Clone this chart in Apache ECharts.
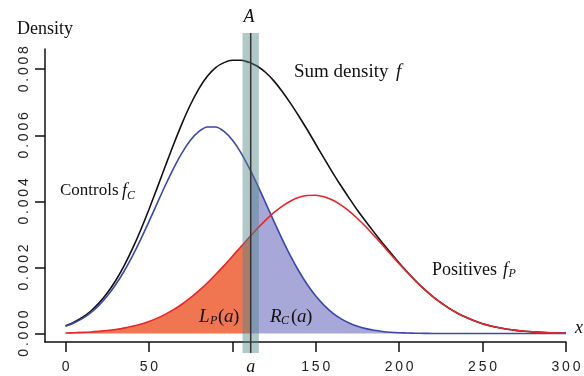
<!DOCTYPE html>
<html>
<head>
<meta charset="utf-8">
<script src="https://cdn.jsdelivr.net/npm/echarts@6/dist/echarts.min.js"></script>
<style>
html,body{margin:0;padding:0;background:#fff;}
#chart{width:584px;height:376px;}
</style>
</head>
<body>
<div id="chart"></div>
<script>
// ---- data ----
const xs = [0,5,10,15,20,25,30,35,40,45,50,55,60,65,70,75,80,85,90,95,100,105,110,111,115,120,125,130,135,140,145,150,155,160,165,170,175,180,185,190,195,200,205,210,215,220,225,230,235,240,245,250,255,260,265,270,275,280,285,290,295,300];
const controls = [0.000220,0.000319,0.000452,0.000628,0.000854,0.001135,0.001475,0.001877,0.002336,0.002844,0.003388,0.003949,0.004503,0.005024,0.005483,0.005856,0.006118,0.006253,0.006253,0.006118,0.005856,0.005483,0.005024,0.004924,0.004503,0.003949,0.003388,0.002844,0.002336,0.001877,0.001475,0.001135,0.000854,0.000628,0.000452,0.000319,0.000220,0.000148,0.000098,0.000063,0.000040,0.000025,0.000015,0.000009,0.000005,0.000003,0.000002,0.000001,0,0,0,0,0,0,0,0,0,0,0,0,0,0];
const positives = [0.000016,0.000023,0.000034,0.000047,0.000066,0.000090,0.000123,0.000164,0.000218,0.000284,0.000367,0.000467,0.000588,0.000730,0.000895,0.001084,0.001297,0.001531,0.001785,0.002055,0.002336,0.002621,0.002905,0.002961,0.003179,0.003434,0.003664,0.003859,0.004014,0.004123,0.004180,0.004186,0.004138,0.004040,0.003894,0.003706,0.003483,0.003231,0.002961,0.002678,0.002393,0.002110,0.001838,0.001581,0.001342,0.001125,0.000931,0.000761,0.000614,0.000490,0.000385,0.000299,0.000230,0.000174,0.000130,0.000096,0.000070,0.000050,0.000036,0.000025,0.000018,0.000012];
const sumDensity = [0.000236,0.000342,0.000486,0.000675,0.000920,0.001225,0.001598,0.002041,0.002554,0.003128,0.003755,0.004416,0.005091,0.005754,0.006378,0.006940,0.007415,0.007784,0.008050,0.008200,0.008270,0.008270,0.008210,0.008190,0.008090,0.007900,0.007640,0.007320,0.006960,0.006570,0.006160,0.005730,0.005300,0.004880,0.004480,0.004100,0.003730,0.003390,0.003062,0.002743,0.002434,0.002135,0.001853,0.001590,0.001347,0.001128,0.000933,0.000762,0.000614,0.000490,0.000385,0.000299,0.000230,0.000174,0.000130,0.000096,0.000070,0.000050,0.000036,0.000025,0.000018,0.000012];
const cutoff = 111;
const xTicks = [0,50,100,150,200,250,300];
const xLabels = [0,50,111,150,200,250,300];
const yTicks = [0,0.002,0.004,0.006,0.008];

// ---- derived series data ----
const pts = arr => xs.map((x,i)=>[x,arr[i]]);
const leftFill = pts(positives).filter(p=>p[0]<=cutoff);
const rightFill = pts(controls).filter(p=>p[0]>=cutoff);

const SERIF = '"Liberation Serif","Times New Roman",serif';
const spaced = s => String(s).split('').join('\u2009');

function T(x, y, text, size, italic, align){
  return {type:'text', x:x, y:y, z:100,
    style:{text:text, fill:'#111', align:align||'left', verticalAlign:'middle',
      font:(italic?'italic ':'')+size+'px '+SERIF}};
}

const chart = echarts.init(document.getElementById('chart'), null, {renderer:'canvas'});
chart.setOption({
  animation:false,
  backgroundColor:'#fff',
  grid:{left:45,right:18,top:49,bottom:33,containLabel:false},
  xAxis:{type:'value',min:-12.3,max:300,
    splitLine:{show:false},
    axisLine:{show:true,onZero:false,lineStyle:{color:'#111',width:1.5}},
    axisTick:{show:true,length:10,lineStyle:{color:'#111',width:1.5},customValues:xTicks},
    axisLabel:{show:true,margin:18,color:'#222',fontSize:14,fontFamily:'"Liberation Sans",Arial,sans-serif',
      customValues:xLabels,
      formatter:v=> v===cutoff ? '{a|a}' : spaced(v),
      rich:{a:{fontFamily:SERIF,fontStyle:'italic',fontSize:18,color:'#111',lineHeight:14}}}
  },
  yAxis:{type:'value',min:-0.000256,max:0.008612,
    splitLine:{show:false},
    axisLine:{show:true,onZero:false,lineStyle:{color:'#111',width:1.5}},
    axisTick:{show:true,length:10,lineStyle:{color:'#111',width:1.5},customValues:yTicks},
    axisLabel:{show:true,rotate:90,margin:14,color:'#222',fontSize:14,fontFamily:'"Liberation Sans",Arial,sans-serif',
      customValues:yTicks,
      formatter:v=>spaced(v.toFixed(3))}
  },
  series:[
    {type:'line',data:leftFill,smooth:0.3,showSymbol:false,silent:true,z:1,
      lineStyle:{width:0},areaStyle:{color:'#f07652',opacity:1}},
    {type:'line',data:rightFill,smooth:0.3,showSymbol:false,silent:true,z:1,
      lineStyle:{width:0},areaStyle:{color:'#a8a8d8',opacity:1}},
    {type:'line',data:pts(sumDensity),smooth:0.3,showSymbol:false,z:2,
      lineStyle:{color:'#111',width:1.6}},
    {type:'line',data:pts(controls),smooth:0.3,showSymbol:false,z:3,
      lineStyle:{color:'#3a47b0',width:1.6}},
    {type:'line',data:pts(positives),smooth:0.3,showSymbol:false,z:4,
      lineStyle:{color:'#e8262a',width:1.6}},
    {type:'custom',z:10,clip:false,silent:true,data:[[cutoff]],
      renderItem:function(params, api){
        const a = api.value(0);
        const tl = api.coord([a-4.9, 0.009095]);
        const br = api.coord([a+4.9, -0.000588]);
        const c = api.coord([a, 0]);
        return {type:'group',children:[
          {type:'rect',shape:{x:tl[0],y:tl[1],width:br[0]-tl[0],height:br[1]-tl[1]},
            style:{fill:'rgba(79,133,133,0.45)'}},
          {type:'line',shape:{x1:c[0],y1:tl[1],x2:c[0],y2:br[1]},
            style:{stroke:'#333',lineWidth:1.5}}
        ]};
      }}
  ],
  graphic:[
    T(17,29,'Density',18),
    T(249,17,'A',18,true,'center'),
    T(294,72,'Sum density',19), T(396,72,'f',19,true),
    T(60,191,'Controls',17), T(122,191,'f',18,true), T(127,196,'C',12,true),
    T(432,270,'Positives',18), T(503,270,'f',18,true), T(508.5,274,'P',12,true),
    T(199,317,'L',19,true), T(210,321,'P',12,true), T(218,317,'(',19), T(224,317,'a',19,true), T(233,317,')',19),
    T(270,317,'R',19,true), T(281,321,'C',12,true), T(291,317,'(',19), T(297,317,'a',19,true), T(306,317,')',19),
    T(575,328,'x',18,true)
  ]
});
</script>
</body>
</html>
